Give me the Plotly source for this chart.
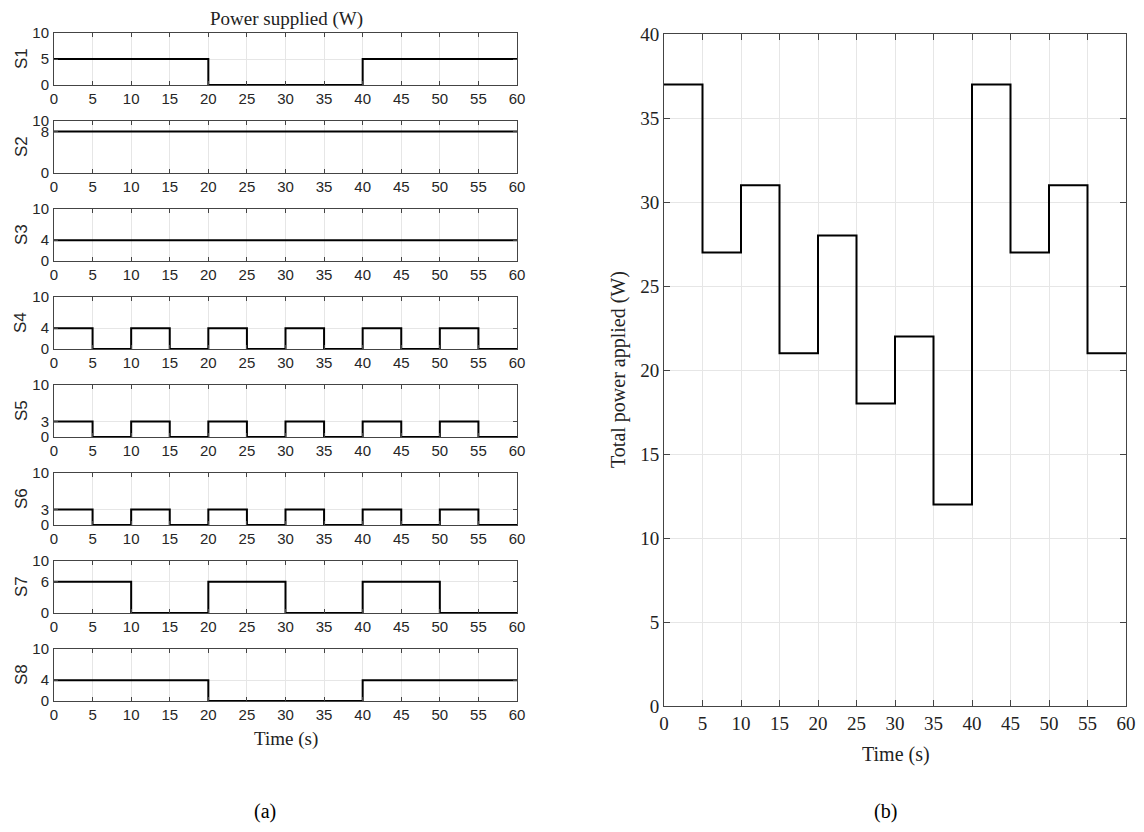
import plotly.graph_objects as go

# ---- data (power per 5 s segment, 0-60 s) ----
time_edges = [0, 5, 10, 15, 20, 25, 30, 35, 40, 45, 50, 55, 60]
S1 = [5, 5, 5, 5, 0, 0, 0, 0, 5, 5, 5, 5]
S2 = [8, 8, 8, 8, 8, 8, 8, 8, 8, 8, 8, 8]
S3 = [4, 4, 4, 4, 4, 4, 4, 4, 4, 4, 4, 4]
S4 = [4, 0, 4, 0, 4, 0, 4, 0, 4, 0, 4, 0]
S5 = [3, 0, 3, 0, 3, 0, 3, 0, 3, 0, 3, 0]
S6 = [3, 0, 3, 0, 3, 0, 3, 0, 3, 0, 3, 0]
S7 = [6, 6, 0, 0, 6, 6, 0, 0, 6, 6, 0, 0]
S8 = [4, 4, 4, 4, 0, 0, 0, 0, 4, 4, 4, 4]
total = [37, 27, 31, 21, 28, 18, 22, 12, 37, 27, 31, 21]

series_names = ["S1", "S2", "S3", "S4", "S5", "S6", "S7", "S8"]
series_vals = [S1, S2, S3, S4, S5, S6, S7, S8]
y_mid_ticks = [5, 8, 4, 4, 3, 3, 6, 4]
x_ticks = list(range(0, 61, 5))
total_y_ticks = list(range(0, 41, 5))

# page body has an 8px margin; figure sized to fit inside it without scrolling
OFF = 8
W, H = 1144 - 2 * OFF, 832 - 2 * OFF
def px_x(x):
    return (x - OFF) / W
def px_y(y):
    return 1 - (y - OFF) / H

fig = go.Figure()
layout = dict(
    width=W, height=H, margin=dict(l=0, r=0, t=0, b=0, autoexpand=False),
    paper_bgcolor="white", plot_bgcolor="white", showlegend=False,
)

SANS = "Liberation Sans, Arial, sans-serif"
SERIF = "Liberation Serif, Times New Roman, serif"
GRID = "#e6e6e6"
AX = "#444444"
TXT = "#262626"

left_x0, left_x1 = 54, 517
top0, height, pitch = 33, 52, 88
annotations = []

for i, (name, vals) in enumerate(zip(series_names, series_vals)):
    k = i + 1
    xs = time_edges
    ys = vals + [vals[-1]]
    fig.add_trace(go.Scatter(x=xs, y=ys, mode="lines", line_shape="hv",
                             line=dict(color="black", width=2),
                             xaxis=f"x{k}", yaxis=f"y{k}", hoverinfo="skip"))
    t = top0 + i * pitch
    b = t + height
    layout[f"xaxis{k}" if k > 1 else "xaxis"] = dict(
        domain=[px_x(left_x0), px_x(left_x1)], anchor=f"y{k}", range=[0, 60],
        tickvals=x_ticks, ticks="inside", ticklen=4, tickcolor=AX, automargin=False,
        showline=True, linecolor=AX, linewidth=1, mirror="ticks",
        showgrid=True, gridcolor=GRID, gridwidth=1, zeroline=False,
        tickfont=dict(family=SANS, size=15, color=TXT))
    layout[f"yaxis{k}" if k > 1 else "yaxis"] = dict(
        domain=[px_y(b), px_y(t)], anchor=f"x{k}", range=[0, 10],
        tickvals=[0, y_mid_ticks[i], 10], ticks="inside", ticklen=4, tickcolor=AX,
        automargin=False,
        showline=True, linecolor=AX, linewidth=1, mirror="ticks",
        showgrid=True, gridcolor=GRID, gridwidth=1, zeroline=False,
        tickfont=dict(family=SANS, size=15, color=TXT), ticklabelstandoff=1)
    annotations.append(dict(text=name, x=px_x(21), y=px_y((t + b) / 2),
                            xref="paper", yref="paper", showarrow=False, textangle=-90,
                            font=dict(family=SANS, size=17, color=TXT),
                            xanchor="center", yanchor="middle"))

# right panel
fig.add_trace(go.Scatter(x=time_edges, y=total + [total[-1]], mode="lines", line_shape="hv",
                         line=dict(color="black", width=2),
                         xaxis="x9", yaxis="y9", hoverinfo="skip"))
layout["xaxis9"] = dict(
    domain=[px_x(664), px_x(1126)], anchor="y9", range=[0, 60],
    tickvals=x_ticks, ticks="inside", ticklen=6, tickcolor=AX, automargin=False,
    showline=True, linecolor=AX, linewidth=1, mirror="ticks",
    showgrid=True, gridcolor=GRID, gridwidth=1, zeroline=False,
    tickfont=dict(family=SERIF, size=19, color="#222222"))
layout["yaxis9"] = dict(
    domain=[px_y(706), px_y(34)], anchor="x9", range=[0, 40],
    tickvals=total_y_ticks, ticks="inside", ticklen=6, tickcolor=AX, automargin=False,
    showline=True, linecolor=AX, linewidth=1, mirror="ticks",
    showgrid=True, gridcolor=GRID, gridwidth=1, zeroline=False,
    tickfont=dict(family=SERIF, size=19, color="#222222"))

annotations += [
    dict(text="Power supplied (W)", x=px_x(286), y=px_y(19), xref="paper", yref="paper",
         showarrow=False, font=dict(family=SERIF, size=19, color="#222222"),
         xanchor="center", yanchor="middle"),
    dict(text="Time (s)", x=px_x(286), y=px_y(739), xref="paper", yref="paper",
         showarrow=False, font=dict(family=SERIF, size=19, color="#222222"),
         xanchor="center", yanchor="middle"),
    dict(text="Time (s)", x=px_x(896), y=px_y(754), xref="paper", yref="paper",
         showarrow=False, font=dict(family=SERIF, size=20, color="#222222"),
         xanchor="center", yanchor="middle"),
    dict(text="Total power applied (W)", x=px_x(618), y=px_y(370), xref="paper", yref="paper",
         showarrow=False, textangle=-90, font=dict(family=SERIF, size=20, color="#222222"),
         xanchor="center", yanchor="middle"),
    dict(text="(a)", x=px_x(265), y=px_y(811), xref="paper", yref="paper",
         showarrow=False, font=dict(family=SERIF, size=20, color="black"),
         xanchor="center", yanchor="middle"),
    dict(text="(b)", x=px_x(885), y=px_y(811), xref="paper", yref="paper",
         showarrow=False, font=dict(family=SERIF, size=20, color="black"),
         xanchor="center", yanchor="middle"),
]
layout["annotations"] = annotations
fig.update_layout(**layout)
fig.write_html("out.html")
